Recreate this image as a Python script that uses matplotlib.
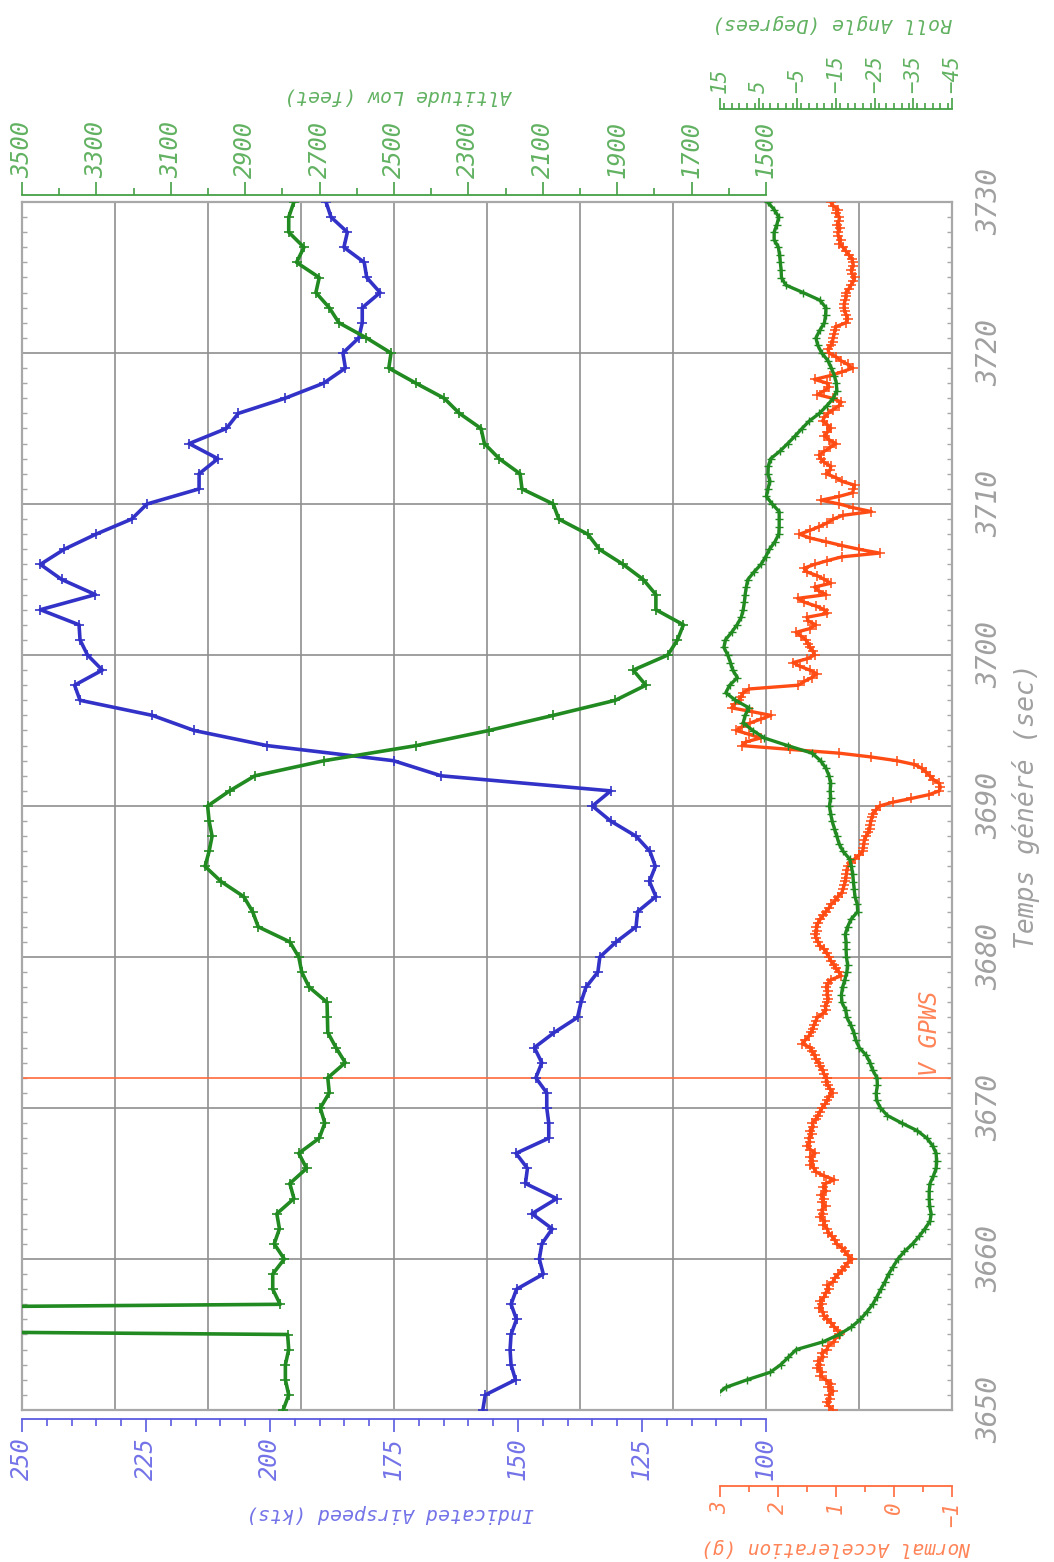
import numpy as np
import matplotlib.pyplot as plt
from matplotlib.ticker import MultipleLocator

W, H = 1054, 1562
PT = 0.72  # points per pixel at dpi=100

# 1 Hz parameters
time_1hz = np.arange(3650, 3731)
airspeed_kts = [
    157.1, 156.6, 150.5, 151.4, 151.6, 151.4, 150.3, 151.4, 150.3, 144.9,
    145.7, 145.2, 143.1, 147.2, 142.2, 148.5, 148.1, 150.4, 143.8, 143.8,
    144.2, 144.2, 146.4, 145.2, 146.7, 142.7, 138.0, 137.3, 136.3, 133.9,
    133.5, 130.2, 126.2, 125.9, 122.2, 123.5, 122.3, 123.4, 126.2, 131.3,
    135.0, 131.3, 165.5, 175.1, 200.6, 215.3, 223.7, 238.3, 239.4, 233.8,
    236.8, 238.3, 238.5, 246.3, 235.2, 242.0, 246.3, 241.5, 235.1, 227.9,
    224.8, 214.3, 214.3, 210.5, 216.3, 208.8, 206.4, 197.0, 189.2, 184.8,
    185.3, 182.1, 181.4, 181.4, 177.8, 180.5, 181.0, 185.1, 184.4, 187.7,
    188.7,
]
altitude_ft = [
    2798, 2783, 2792, 2792, 2783, 2786, 8000, 2806, 2826, 2826,
    2795, 2822, 2808, 2815, 2769, 2780, 2735, 2756, 2701, 2686,
    2698, 2674, 2678, 2631, 2656, 2678, 2679, 2680, 2728, 2748,
    2756, 2780, 2865, 2880, 2904, 2965, 3008, 2997, 2989, 2997,
    3001, 2942, 2874, 2688, 2440, 2245, 2072, 1905, 1823, 1857,
    1764, 1738, 1722, 1796, 1796, 1830, 1884, 1948, 1979, 2057,
    2072, 2156, 2161, 2217, 2257, 2266, 2324, 2365, 2441, 2514,
    2508, 2574, 2648, 2674, 2710, 2701, 2762, 2742, 2783, 2783,
    2769,
]

# 2 Hz roll angle
time_roll = np.arange(3650, 3730.01, 0.5)
roll_deg = [
    19.0, 17.5, 16.0, 13.5, 8.0, 2.0, -0.7, -2.7, -4.7, -11.5,
    -15.8, -19.0, -21.3, -23.0, -24.5, -25.6, -26.6, -27.7, -28.6, -29.8,
    -31.0, -32.7, -34.8, -36.5, -38.0, -39.3, -39.6, -39.2, -39.1, -39.1,
    -39.3, -40.2, -40.9, -41.0, -40.9, -40.0, -38.5, -36.0, -32.0, -28.3,
    -26.5, -25.5, -25.4, -25.7, -25.6, -24.5, -23.8, -22.8, -21.0, -20.1,
    -19.6, -18.8, -17.8, -17.5, -16.5, -16.4, -16.7, -17.3, -17.8, -18.0,
    -17.7, -17.6, -17.6, -17.4, -18.0, -18.9, -20.6, -20.5, -19.9, -19.7,
    -19.5, -19.3, -19.0, -18.5, -16.8, -15.8, -15.2, -14.6, -14.0, -13.6,
    -13.3, -13.6, -13.5, -13.6, -13.2, -12.4, -11.0, -8.8, -2.5, 3.5,
    6.5, 9.0, 8.5, 7.5, 11.0, 13.5, 12.5, 10.5, 11.7, 12.3,
    13.0, 14.0, 13.6, 12.0, 10.6, 9.5, 9.0, 8.7, 8.5, 8.2,
    7.8, 6.2, 4.4, 3.2, 2.2, 0.8, -0.2, -0.3, -0.3, -0.3,
    1.5, 3.0, 2.6, 2.1, 2.6, 2.5, 1.9, -0.5, -2.5, -4.4,
    -6.2, -8.1, -10.7, -12.6, -14.3, -15.2, -15.1, -14.6, -13.8, -12.9,
    -11.3, -10.3, -9.8, -10.8, -12.0, -12.3, -12.4, -10.8, -6.5, -2.0,
    -0.9, -0.8, -0.6, -0.4, -0.1, 1.0, 1.0, 0.3, -0.2, 1.0,
    2.7,
]

# 4 Hz normal acceleration, one row per second
time_acc = np.arange(3650, 3730.01, 0.25)
accel_g = [
    1.06, 1.12, 1.16, 1.10,  1.12, 1.05, 1.13, 1.08,  1.18, 1.27, 1.24, 1.32,
    1.27, 1.31, 1.22, 1.25,  1.16, 1.13, 1.04, 1.01,  0.93, 0.97, 1.03, 1.08,
    1.15, 1.21, 1.23, 1.29,  1.24, 1.27, 1.20, 1.18,  1.12, 1.15, 1.05, 1.02,
    0.96, 0.89, 0.85, 0.80,  0.72, 0.80, 0.85, 0.90,  0.99, 1.02, 1.07, 1.13,
    1.15, 1.22, 1.19, 1.27,  1.22, 1.25, 1.18, 1.24,  1.21, 1.26, 1.17, 1.22,
    1.18, 1.03, 1.20, 1.34,  1.38, 1.44, 1.40, 1.45,  1.36, 1.44, 1.50, 1.45,
    1.47, 1.42, 1.45, 1.39,  1.41, 1.35, 1.31, 1.28,  1.24, 1.19, 1.15, 1.12,
    1.06, 1.10, 1.14, 1.17,  1.16, 1.21, 1.23, 1.27,  1.30, 1.35, 1.37, 1.41,
    1.44, 1.58, 1.53, 1.47,  1.43, 1.40, 1.38, 1.35,  1.32, 1.23, 1.17, 1.19,
    1.15, 1.13, 1.16, 1.14,  1.17, 1.13, 1.09, 0.91,  0.95, 1.00, 1.04, 1.09,
    1.12, 1.16, 1.20, 1.28,  1.31, 1.34, 1.36, 1.33,  1.34, 1.31, 1.27, 1.22,
    1.18, 1.12, 1.08, 1.01,  0.97, 0.90, 0.88, 0.86,  0.84, 0.83, 0.82, 0.81,
    0.80, 0.74, 0.68, 0.60,  0.54, 0.53, 0.52, 0.51,  0.48, 0.44, 0.42, 0.41,
    0.40, 0.38, 0.36, 0.31,  0.25, 0.02, -0.30, -0.60,  -0.78, -0.80, -0.78, -0.68,
    -0.62, -0.55, -0.48, -0.35,  -0.05, 0.40, 0.95, 1.80,  2.62, 2.55, 2.30, 2.50,
    2.72, 2.62, 2.48, 2.30,  2.12, 2.45, 2.80, 2.75,  2.68, 2.63, 2.60, 2.50,
    1.65, 1.55, 1.42, 1.33,  1.45, 1.62, 1.74, 1.50,  1.37, 1.40, 1.45, 1.48,
    1.52, 1.60, 1.69, 1.45,  1.35, 1.48, 1.50, 1.15,  1.20, 1.35, 1.55, 1.66,
    1.17, 1.30, 1.37, 1.09,  1.20, 1.32, 1.50, 1.55,  1.37, 1.15, 0.90, 0.25,
    0.60, 0.90, 1.17, 1.45,  1.63, 1.45, 1.29, 1.15,  1.05, 0.88, 0.39, 0.70,
    0.94, 1.26, 0.95, 0.71,  0.70, 0.68, 0.90, 1.00,  1.17, 1.10, 1.09, 1.20,
    1.26, 1.29, 1.20, 1.10,  1.00, 1.12, 1.20, 1.15,  1.09, 1.15, 1.23, 1.20,
    1.14, 1.05, 0.95, 0.91,  1.06, 1.32, 1.20, 1.12,  1.15, 1.37, 1.10, 0.90,
    0.71, 0.80, 0.92, 1.00,  1.12, 1.14, 1.09, 1.06,  1.05, 1.03, 1.02, 1.00,
    0.83, 0.80, 0.82, 0.85,  0.86, 0.86, 0.84, 0.82,  0.83, 0.78, 0.74, 0.70,
    0.68, 0.72, 0.74, 0.70,  0.71, 0.73, 0.78, 0.83,  0.88, 0.94, 0.92, 0.96,
    0.97, 0.93, 0.98, 0.95,  0.94, 1.00, 0.96, 1.05,
    1.09,
]

GPWS_TIME = 3672

BLUE, BLUE_AX, BLUE_TXT = "#3232c8", "#5a5ae0", "#7373e8"
GREEN, GREEN_AX, GREEN_TXT = "#218a21", "#44a044", "#62b262"
ORANGE, ORANGE_AX, ORANGE_TXT = "#ff4b14", "#ff6a3c", "#ff8458"
GREY_TXT = "#a0a0a0"
GRID = "#8f8f8f"
FRAME = "#a8a8a8"

plt.rcParams.update({
    "font.family": ["DejaVu Sans Mono", "DejaVu Sans"],
    "font.style": "oblique",
})

fig = plt.figure(figsize=(W / 100, H / 100), dpi=100)
fig.patch.set_facecolor("white")


def px_axes(x0, y0, x1, y1):
    return fig.add_axes([x0 / W, 1 - y1 / H, (x1 - x0) / W, (y1 - y0) / H])


# frame, grid and time axis
frame = px_axes(22, 202, 952, 1410)
frame.set_xlim(0, 10)
frame.set_ylim(3650, 3730)
frame.set_xticks(range(1, 10))
frame.tick_params(axis="x", length=0, labelbottom=False)
frame.set_yticks(range(3650, 3731, 10))
frame.yaxis.set_minor_locator(MultipleLocator(1))
frame.yaxis.tick_right()
frame.tick_params(axis="y", which="major", length=0, pad=23 * PT,
                  labelsize=20, labelcolor=GREY_TXT, labelrotation=90)
frame.tick_params(axis="y", which="minor", left=True, right=True,
                  direction="in", length=5 * PT, width=1, color=FRAME)
for lab in frame.get_yticklabels():
    lab.set_va("center")
frame.grid(True, color=GRID, lw=1.2)
for sp in frame.spines.values():
    sp.set_color(FRAME)
    sp.set_linewidth(1.6)
frame.axhline(GPWS_TIME, color=ORANGE_AX, lw=1.2)
frame.text(9.76, GPWS_TIME + 0.1, "V GPWS", rotation=90, ha="center",
           va="bottom", color=ORANGE_TXT, fontsize=17)


def style_axis(ax, side, color, txt_color, outward_px, major, minor, lim,
               major_len, minor_len, labelsize, pad_px):
    ax.set_xlim(*lim)
    ax.set_ylim(3650, 3730)
    ax.patch.set_visible(False)
    for name, sp in ax.spines.items():
        sp.set_visible(name == side)
    ax.spines[side].set_position(("outward", outward_px * PT))
    ax.spines[side].set_color(color)
    ax.spines[side].set_linewidth(1.3)
    ax.set_xticks(major)
    ax.xaxis.set_minor_locator(MultipleLocator(minor))
    if side == "top":
        ax.xaxis.tick_top()
    else:
        ax.xaxis.tick_bottom()
    ax.tick_params(axis="x", which="major", length=major_len * PT, width=1.2,
                   color=color, labelcolor=txt_color, labelsize=labelsize,
                   labelrotation=90, pad=pad_px * PT)
    ax.tick_params(axis="x", which="minor", length=minor_len * PT, width=1.2,
                   color=color)
    ax.tick_params(axis="y", left=False, right=False,
                   labelleft=False, labelright=False)


# upper panel: airspeed and altitude
ax_spd = px_axes(22, 202, 766, 1410)
style_axis(ax_spd, "bottom", BLUE_AX, BLUE_TXT, 9, range(250, 99, -25), 5,
           (250, 100), 13, 7, 17, 5)
ax_alt = ax_spd.twiny()
style_axis(ax_alt, "top", GREEN_AX, GREEN_TXT, 7, range(3500, 1499, -200), 100,
           (3500, 1500), 13, 7, 17, 4)

ax_spd.plot(airspeed_kts, time_1hz, color=BLUE, lw=2.6, marker="+",
            ms=7, mew=1.2)
ax_alt.plot(altitude_ft, time_1hz, color=GREEN, lw=2.6, marker="+",
            ms=7, mew=1.2)

# lower panel: normal acceleration and roll
ax_acc = px_axes(720, 202, 952, 1410)
style_axis(ax_acc, "bottom", ORANGE_AX, ORANGE_TXT, 75.5, range(3, -2, -1),
           0.5, (3, -1), 11, 6, 15, 5)
ax_roll = ax_acc.twiny()
style_axis(ax_roll, "top", GREEN_AX, GREEN_TXT, 93, range(15, -46, -10), 2,
           (15, -45), 11, 6, 15, 5)

ax_acc.plot(accel_g, time_acc, color=ORANGE, lw=2.4, marker="+",
            ms=7, mew=1.1)
ax_roll.plot(roll_deg, time_roll, color=GREEN, lw=2.4, marker="+",
             ms=6, mew=1.0)


def fig_text(x, y, s, color, rot, size):
    fig.text(x / W, 1 - y / H, s, color=color, rotation=rot,
             ha="center", va="center", fontsize=size)


fig_text(400, 96, "Altitude Low (feet)", GREEN_TXT, 180, 14.3)
fig_text(832, 24, "Roll Angle (Degrees)", GREEN_TXT, 180, 14.3)
fig_text(390, 1513, "Indicated Airspeed (kts)", BLUE_TXT, 180, 14.3)
fig_text(836, 1548, "Normal Acceleration (g)", ORANGE_TXT, 180, 14.0)
fig_text(1026, 806, "Temps généré (sec)", GREY_TXT, 90, 19)

fig.savefig("out.png", dpi=100, facecolor="white")
